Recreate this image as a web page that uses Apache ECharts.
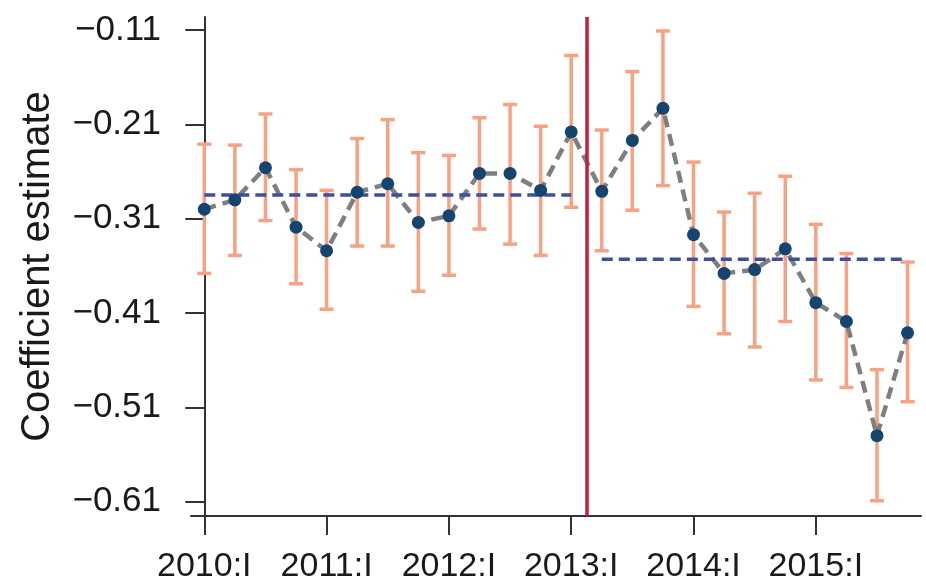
<!DOCTYPE html>
<html>
<head>
<meta charset="utf-8">
<script src="https://cdn.jsdelivr.net/npm/echarts@6/dist/echarts.min.js"></script>
<style>
html,body{margin:0;padding:0;background:#fff;}
#chart{width:926px;height:586px;}
</style>
</head>
<body>
<div id="chart"></div>
<script>
// quarters 2010:I .. 2015:IV, index 0..23
const quarters = ['2010:I','2010:II','2010:III','2010:IV','2011:I','2011:II','2011:III','2011:IV',
  '2012:I','2012:II','2012:III','2012:IV','2013:I','2013:II','2013:III','2013:IV',
  '2014:I','2014:II','2014:III','2014:IV','2015:I','2015:II','2015:III','2015:IV'];
const estimate = [-0.300,-0.290,-0.256,-0.319,-0.344,-0.282,-0.273,-0.314,-0.307,-0.262,-0.262,-0.280,
  -0.218,-0.281,-0.227,-0.193,-0.327,-0.368,-0.364,-0.342,-0.399,-0.419,-0.540,-0.431];
const upper = [-0.231,-0.232,-0.199,-0.258,-0.280,-0.225,-0.205,-0.240,-0.243,-0.203,-0.189,-0.212,
  -0.137,-0.216,-0.154,-0.111,-0.250,-0.303,-0.283,-0.265,-0.316,-0.347,-0.470,-0.356];
const lower = [-0.368,-0.349,-0.312,-0.379,-0.406,-0.339,-0.339,-0.387,-0.370,-0.321,-0.337,-0.349,
  -0.298,-0.344,-0.301,-0.275,-0.403,-0.432,-0.446,-0.419,-0.481,-0.489,-0.609,-0.504];
const yTicks = [-0.61,-0.51,-0.41,-0.31,-0.21,-0.11];
const xTickIdx = [0,4,8,12,16,20];
const xTickLabels = ['2010:I','2011:I','2012:I','2013:I','2014:I','2015:I'];
const preMean = -0.285, postMean = -0.353;
const breakPoint = 12.5;
const preRange = [0, 12], postRange = [13, 23];

const pts = estimate.map((v,i)=>[i,v]);
const bars = estimate.map((v,i)=>[i,lower[i],upper[i]]);
const font = "'Liberation Sans', Arial, Helvetica, sans-serif";

const chart = echarts.init(document.getElementById('chart'));
chart.setOption({
  animation:false,
  backgroundColor:'#fff',
  grid:{left:191,right:5,top:17,bottom:70},
  xAxis:{
    type:'value', min:-0.435, max:23.44,
    axisLine:{show:true,lineStyle:{color:'#333',width:2}},
    axisTick:{show:true,length:19,lineStyle:{color:'#333',width:2},customValues:xTickIdx},
    axisLabel:{customValues:xTickIdx,margin:34,fontSize:34,color:'#1a1a1a',fontFamily:font,
      formatter:(v)=>{const k=xTickIdx.indexOf(Math.round(v));return k>=0?xTickLabels[k]:'';}},
    splitLine:{show:false}
  },
  yAxis:{
    type:'value', min:-0.6252, max:-0.0962,
    name:'Coefficient estimate', nameLocation:'middle', nameGap:133, nameRotate:90,
    nameTextStyle:{fontSize:40,color:'#1a1a1a',fontFamily:font},
    axisLine:{show:true,lineStyle:{color:'#333',width:2}},
    axisTick:{show:true,length:19,lineStyle:{color:'#333',width:2},customValues:yTicks},
    axisLabel:{customValues:yTicks,margin:30,fontSize:35,color:'#1a1a1a',fontFamily:font,
      formatter:(v)=>'\u2212'+Math.abs(v).toFixed(2)},
    splitLine:{show:false}
  },
  series:[
    {
      type:'custom', z:1,
      renderItem:(params,api)=>{
        const x=api.value(0);
        const lo=api.coord([x,api.value(1)]);
        const hi=api.coord([x,api.value(2)]);
        const w=7;
        const st={stroke:'#f7a282',lineWidth:3.5};
        return {type:'group',children:[
          {type:'line',shape:{x1:lo[0],y1:lo[1],x2:hi[0],y2:hi[1]},style:st},
          {type:'line',shape:{x1:lo[0]-w,y1:lo[1],x2:lo[0]+w,y2:lo[1]},style:st},
          {type:'line',shape:{x1:hi[0]-w,y1:hi[1],x2:hi[0]+w,y2:hi[1]},style:st}
        ]};
      },
      encode:{x:0,y:[1,2]},
      data:bars
    },
    {
      type:'line', z:2, data:pts, symbol:'none',
      lineStyle:{color:'#7f7f7f',width:4.5,type:[12,7]}
    },
    {
      type:'line', z:3, symbol:'none',
      data:[[preRange[0],preMean],[preRange[1],preMean]],
      lineStyle:{color:'#3b4ea8',width:3.5,type:[11,6]}
    },
    {
      type:'line', z:3, symbol:'none',
      data:[[postRange[0],postMean],[postRange[1],postMean]],
      lineStyle:{color:'#3b4ea8',width:3.5,type:[11,6]}
    },
    {
      type:'scatter', z:4, data:pts, symbolSize:13,
      itemStyle:{color:'#15456e',opacity:1},
      markLine:{
        silent:true, symbol:'none', label:{show:false},
        lineStyle:{color:'#c41e3a',width:3.5,type:'solid'},
        data:[{xAxis:breakPoint}]
      }
    }
  ]
});
</script>
</body>
</html>
